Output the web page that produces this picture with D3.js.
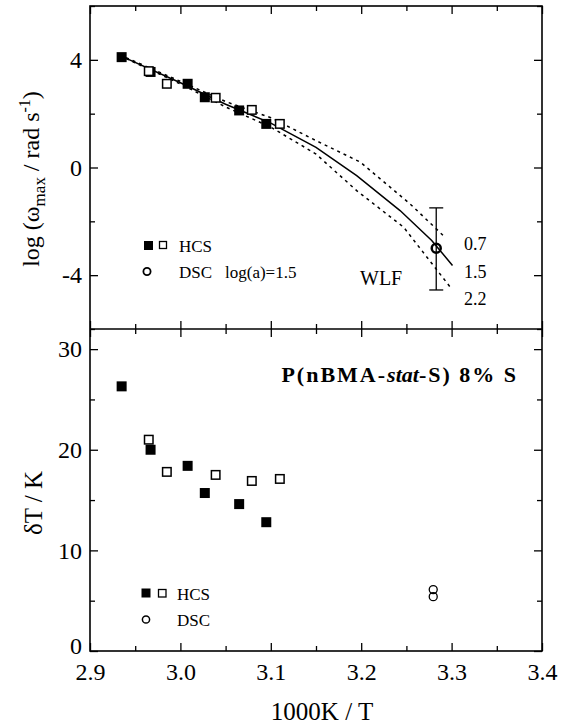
<!DOCTYPE html>
<html>
<head>
<meta charset="utf-8">
<script src="https://cdn.jsdelivr.net/npm/d3@7"></script>
<style>
  body { margin: 0; background: #fff; }
  svg { display: block; font-family: "Liberation Serif", "Times New Roman", serif; }
  .tick line { stroke: #000; stroke-width: 1.3; }
</style>
</head>
<body>
<div id="chart"></div>
<script>
// x positions (1000K / T)
const hcsFilledX = [2.935, 2.967, 3.008, 3.027, 3.065, 3.095];
const hcsOpenX = [2.965, 2.985, 3.039, 3.079, 3.110];
const dscX = 3.283;

// top panel: log(omega_max)
const topFilled = [4.10, 3.55, 3.11, 2.61, 2.12, 1.62];
const topOpen = [3.58, 3.11, 2.59, 2.14, 1.62];
const topDsc = -3.0, topDscLow = -4.55, topDscHigh = -1.5;

// WLF curves, log(a) = 0.7 / 1.5 / 2.2
const wlf15X = [2.937, 3.0, 3.05, 3.1, 3.15, 3.195, 3.243, 3.278, 3.301];
const wlf15Y = [4.10, 3.15, 2.35, 1.65, 0.75, -0.30, -1.60, -2.71, -3.64];
const wlf07X = [2.94, 3.0, 3.05, 3.1, 3.15, 3.199, 3.254, 3.293];
const wlf07Y = [4.08, 3.2, 2.45, 1.85, 1.0, 0.20, -1.35, -2.6];
const wlf22X = [2.94, 3.0, 3.05, 3.1, 3.15, 3.195, 3.247, 3.300];
const wlf22Y = [4.05, 3.1, 2.25, 1.5, 0.5, -0.86, -2.22, -4.51];
const wlfLabels = ["0.7", "1.5", "2.2"];

// bottom panel: deltaT / K
const botFilled = [26.3, 20.0, 18.4, 15.7, 14.6, 12.8];
const botOpen = [21.0, 17.8, 17.5, 16.9, 17.1];
const botDsc = [6.1, 5.4];

// ticks
const xTicks = [2.9, 3.0, 3.1, 3.2, 3.3, 3.4];
const xMinor = [2.95, 3.05, 3.15, 3.25, 3.35];
const topTicks = [-4, 0, 4];
const topMinor = [-6, -2, 2, 6];
const botTicks = [0, 10, 20, 30];
const botMinor = [5, 15, 25];

const width = 564, height = 726;
const pLeft = 90, pRight = 542, pTop = 6, pMid = 329, pBottom = 651;
const serif = '"Liberation Serif", "Times New Roman", serif';

const svg = d3.select("#chart").append("svg")
    .attr("width", width)
    .attr("height", height);

const x = d3.scaleLinear().domain([2.9, 3.4]).range([pLeft, pRight]);
const yTop = d3.scaleLinear().domain([-6, 6]).range([pMid, pTop]);
const yBot = d3.scaleLinear().domain([0, 32]).range([pBottom, pMid]);

const fmt1 = d3.format(".1f");
const fmtInt = d => String(d); // plain hyphen minus like the original

// axis helper: draws ticks pointing inward, no domain path
function addAxis(axis, tx, ty) {
    const g = svg.append("g")
        .attr("transform", `translate(${tx},${ty})`)
        .call(axis);
    g.select(".domain").remove();
    g.attr("font-family", serif).attr("font-size", 24);
    g.selectAll(".tick text")
        .style("font-family", serif)
        .style("font-size", "24px")
        .attr("fill", "#000");
    return g;
}

// x axes (bottom with labels, others ticks only)
addAxis(d3.axisBottom(x).tickValues(xTicks).tickFormat(fmt1).tickSize(-8).tickSizeOuter(0).tickPadding(12), 0, pBottom);
addAxis(d3.axisBottom(x).tickValues(xMinor).tickFormat("").tickSize(-5).tickSizeOuter(0), 0, pBottom);
[[pTop, 1], [pMid, 1], [pMid, -1]].forEach(([yy, dir]) => {
    addAxis(d3.axisTop(x).tickValues(xTicks).tickFormat("").tickSize(-8 * dir).tickSizeOuter(0), 0, yy);
    addAxis(d3.axisTop(x).tickValues(xMinor).tickFormat("").tickSize(-5 * dir).tickSizeOuter(0), 0, yy);
});

// y axes
addAxis(d3.axisLeft(yTop).tickValues(topTicks).tickFormat(fmtInt).tickSize(-8).tickSizeOuter(0).tickPadding(8), pLeft, 0);
addAxis(d3.axisLeft(yTop).tickValues(topMinor).tickFormat("").tickSize(-5).tickSizeOuter(0), pLeft, 0);
addAxis(d3.axisRight(yTop).tickValues(topTicks).tickFormat("").tickSize(-8).tickSizeOuter(0), pRight, 0);
addAxis(d3.axisRight(yTop).tickValues(topMinor).tickFormat("").tickSize(-5).tickSizeOuter(0), pRight, 0);
const botLeft = addAxis(d3.axisLeft(yBot).tickValues(botTicks).tickFormat(fmtInt).tickSize(-8).tickSizeOuter(0).tickPadding(8), pLeft, 0);
botLeft.selectAll(".tick text").filter(d => d === 0).attr("dy", "0.1em");
addAxis(d3.axisLeft(yBot).tickValues(botMinor).tickFormat("").tickSize(-5).tickSizeOuter(0), pLeft, 0);
addAxis(d3.axisRight(yBot).tickValues(botTicks).tickFormat("").tickSize(-8).tickSizeOuter(0), pRight, 0);
addAxis(d3.axisRight(yBot).tickValues(botMinor).tickFormat("").tickSize(-5).tickSizeOuter(0), pRight, 0);

// frames
svg.append("rect")
    .attr("x", pLeft).attr("y", pTop)
    .attr("width", pRight - pLeft).attr("height", pBottom - pTop)
    .attr("fill", "none").attr("stroke", "#000").attr("stroke-width", 1.6);
svg.append("line")
    .attr("x1", pLeft).attr("x2", pRight).attr("y1", pMid).attr("y2", pMid)
    .attr("stroke", "#000").attr("stroke-width", 1.6);

// ---------- top panel ----------
const line = d3.line().x(d => x(d[0])).y(d => yTop(d[1]));
const curves = [
    { xs: wlf07X, ys: wlf07Y, dash: "3,4" },
    { xs: wlf15X, ys: wlf15Y, dash: null },
    { xs: wlf22X, ys: wlf22Y, dash: "3,4" }
];
svg.append("g").selectAll("path")
    .data(curves)
    .join("path")
    .attr("d", c => line(c.xs.map((v, i) => [v, c.ys[i]])))
    .attr("fill", "none")
    .attr("stroke", "#000")
    .attr("stroke-width", 1.5)
    .attr("stroke-dasharray", c => c.dash);

const sq = 10;
svg.append("g").selectAll("rect")
    .data(topFilled)
    .join("rect")
    .attr("x", (d, i) => x(hcsFilledX[i]) - sq / 2)
    .attr("y", d => yTop(d) - sq / 2)
    .attr("width", sq).attr("height", sq)
    .attr("fill", "#000");
svg.append("g").selectAll("rect")
    .data(topOpen)
    .join("rect")
    .attr("x", (d, i) => x(hcsOpenX[i]) - sq / 2 + 0.75)
    .attr("y", d => yTop(d) - sq / 2 + 0.75)
    .attr("width", sq - 1.5).attr("height", sq - 1.5)
    .attr("fill", "#fff")
    .attr("stroke", "#000")
    .attr("stroke-width", 1.5);

// DSC point with error bar
const eb = svg.append("g").attr("stroke", "#000").attr("stroke-width", 1.3);
eb.append("line")
    .attr("x1", x(dscX)).attr("x2", x(dscX))
    .attr("y1", yTop(topDscHigh)).attr("y2", yTop(topDscLow));
[topDscHigh, topDscLow].forEach(v => {
    eb.append("line")
        .attr("x1", x(dscX) - 7).attr("x2", x(dscX) + 7)
        .attr("y1", yTop(v)).attr("y2", yTop(v));
});
svg.append("circle")
    .attr("cx", x(dscX)).attr("cy", yTop(topDsc)).attr("r", 4.5)
    .attr("fill", "none").attr("stroke", "#000").attr("stroke-width", 2.5);

// WLF labels
svg.append("text").attr("x", 360).attr("y", 285)
    .style("font-size", "20px").text("WLF");
svg.append("g").selectAll("text")
    .data(wlfLabels)
    .join("text")
    .attr("x", 464)
    .attr("y", (d, i) => 250 + i * 27.5)
    .style("font-size", "18px")
    .text(d => d);

// top legend
svg.append("rect").attr("x", 144).attr("y", 241).attr("width", 9).attr("height", 9).attr("fill", "#000");
svg.append("rect").attr("x", 159.5).attr("y", 241.5).attr("width", 7).attr("height", 7)
    .attr("fill", "none").attr("stroke", "#000").attr("stroke-width", 1.3);
svg.append("circle").attr("cx", 147).attr("cy", 271.5).attr("r", 3.6)
    .attr("fill", "none").attr("stroke", "#000").attr("stroke-width", 1.8);
svg.append("text").attr("x", 179).attr("y", 252).style("font-size", "17px").text("HCS");
svg.append("text").attr("x", 179).attr("y", 278).style("font-size", "17px").text("DSC");
svg.append("text").attr("x", 225).attr("y", 278).style("font-size", "17px").text("log(a)=1.5");

// top y label
const yl = svg.append("text")
    .attr("transform", "translate(39,179) rotate(-90)")
    .attr("text-anchor", "middle")
    .style("font-size", "24px");
yl.append("tspan").text("log (ω");
yl.append("tspan").attr("dy", 6).style("font-size", "17px").text("max");
yl.append("tspan").attr("dy", -6).text(" / rad s");
yl.append("tspan").attr("dy", -9).style("font-size", "16px").text("-1");
yl.append("tspan").attr("dy", 9).text(")");

// ---------- bottom panel ----------
svg.append("g").selectAll("rect")
    .data(botFilled)
    .join("rect")
    .attr("x", (d, i) => x(hcsFilledX[i]) - sq / 2)
    .attr("y", d => yBot(d) - sq / 2)
    .attr("width", sq).attr("height", sq)
    .attr("fill", "#000");
svg.append("g").selectAll("rect")
    .data(botOpen)
    .join("rect")
    .attr("x", (d, i) => x(hcsOpenX[i]) - sq / 2 + 0.75)
    .attr("y", d => yBot(d) - sq / 2 + 0.75)
    .attr("width", sq - 1.5).attr("height", sq - 1.5)
    .attr("fill", "#fff")
    .attr("stroke", "#000")
    .attr("stroke-width", 1.5);
svg.append("g").selectAll("circle")
    .data(botDsc)
    .join("circle")
    .attr("cx", x(dscX) - 3)
    .attr("cy", d => yBot(d))
    .attr("r", 4)
    .attr("fill", "none")
    .attr("stroke", "#000")
    .attr("stroke-width", 1.3);

// title
const title = svg.append("text")
    .attr("x", 518).attr("y", 382)
    .attr("text-anchor", "end")
    .style("font-size", "22px")
    .style("font-weight", "bold")
    .style("letter-spacing", "2px");
title.append("tspan").text("P(nBMA-");
title.append("tspan").style("font-style", "italic").style("letter-spacing", "0px").text("stat");
title.append("tspan").text("-S) 8% S");

// bottom legend
svg.append("rect").attr("x", 141.5).attr("y", 588.5).attr("width", 9).attr("height", 9).attr("fill", "#000");
svg.append("rect").attr("x", 158.5).attr("y", 589.5).attr("width", 7.5).attr("height", 7.5)
    .attr("fill", "none").attr("stroke", "#000").attr("stroke-width", 1.3);
svg.append("circle").attr("cx", 146).attr("cy", 619.5).attr("r", 3.6)
    .attr("fill", "none").attr("stroke", "#000").attr("stroke-width", 1.5);
svg.append("text").attr("x", 177).attr("y", 600).style("font-size", "17px").text("HCS");
svg.append("text").attr("x", 177).attr("y", 626).style("font-size", "17px").text("DSC");

// bottom y label
svg.append("text")
    .attr("transform", "translate(42,503) rotate(-90)")
    .attr("text-anchor", "middle")
    .style("font-size", "25px")
    .text("δT / K");

// x label
svg.append("text")
    .attr("x", 322).attr("y", 720)
    .attr("text-anchor", "middle")
    .style("font-size", "25px")
    .text("1000K / T");
</script>
</body>
</html>
